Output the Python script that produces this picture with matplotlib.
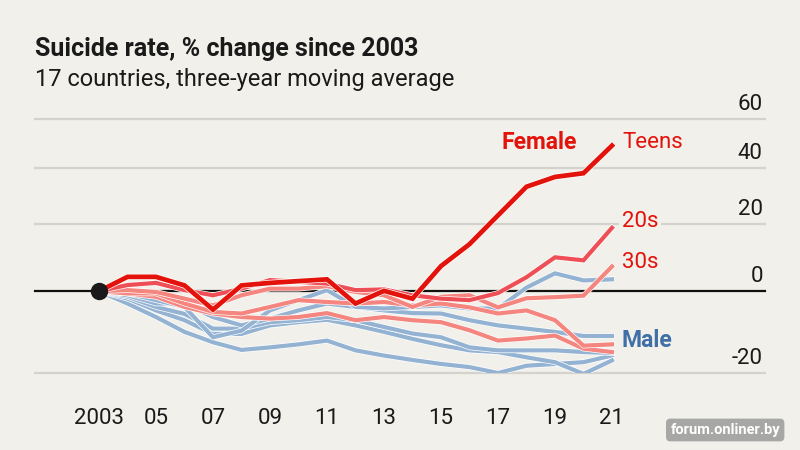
import matplotlib.pyplot as plt
import matplotlib.patheffects as pe
import numpy as np

plt.rcParams['font.family'] = ['Roboto', 'DejaVu Sans']

years = np.arange(2003, 2022)

# % change since 2003
female_teens = [0, 4.0, 4.0, 1.6, -4.9, 1.6, 2.3, 2.8, 3.3, -3.3, 0.1, -2.0, 7.1, 13.7, 23.0, 33.0, 36.6, 38.0, 48.8]
female_20s = [0, 1.7, 2.3, 0.3, -1.1, 0.7, 3.1, 2.6, 2.1, 0.3, 0.5, -1.1, -2.0, -2.4, -0.5, 3.9, 9.7, 8.8, 18.9]
female_30s = [0, 0.3, -0.2, -2.0, -3.8, -1.1, 0.7, 0.7, 1.4, -0.2, -1.1, -4.2, -1.5, -1.1, -4.3, -1.9, -1.6, -1.2, 7.0]
female_40s = [0, -0.6, -0.6, -3.3, -5.5, -5.9, -4.2, -2.4, -2.9, -3.3, -2.9, -3.8, -3.3, -4.3, -5.9, -5.1, -7.6, -13.8, -13.5]
female_50s = [0, -0.6, -1.5, -4.2, -5.9, -6.8, -7.2, -6.8, -5.8, -7.6, -6.8, -7.6, -8.1, -10.1, -12.6, -12.1, -11.4, -14.5, -15.3]

male_a = [0, -0.6, -2.4, -4.2, -11.8, -10.2, -5.1, -2.4, 0.3, -4.2, -4.6, -4.2, -3.8, -4.6, -4.6, 1.0, 5.0, 3.0, 3.3]
male_b = [0, -1.1, -3.3, -3.3, -6.8, -8.9, -7.2, -5.1, -3.3, -4.2, -5.1, -5.8, -5.9, -7.6, -8.9, -9.7, -10.5, -11.5, -11.5]
male_c = [0, -1.5, -4.2, -6.0, -9.7, -9.7, -8.1, -7.6, -6.8, -7.6, -9.3, -10.9, -11.8, -14.2, -14.9, -14.9, -14.9, -15.3, -15.5]
male_d = [0, -2.0, -5.1, -7.6, -11.0, -11.0, -8.9, -8.1, -7.5, -8.9, -10.5, -12.2, -13.7, -14.9, -15.3, -16.5, -17.6, -20.2, -17.2]
male_e = [0, -3.3, -6.8, -10.5, -13.0, -14.8, -14.2, -13.5, -12.6, -14.9, -16.1, -17.1, -18.0, -18.7, -20.0, -18.4, -18.0, -17.6, -16.1]

y_ticks = [-20, 0, 20, 40, 60]
x_ticks = list(range(2003, 2022, 2))
x_labels = ['2003', '05', '07', '09', '11', '13', '15', '17', '19', '21']

bg = '#F1F0EA'
grid_col = '#D3D2CC'
red = '#E3120B'
red_mid = '#EE4E55'
salmon = '#F4857F'
blue = '#94B3D3'
blue_dark = '#3F6FA6'


def fwd(v):
    return np.log1p(np.asarray(v, dtype=float) / 100)


def inv(t):
    return 100 * np.expm1(t)


fig = plt.figure(figsize=(8, 4.5), dpi=100, facecolor=bg)
ax = fig.add_axes([35 / 800, 77 / 450, 730 / 800, 254 / 450])
ax.set_facecolor(bg)
ax.set_yscale('function', functions=(fwd, inv))
ax.set_ylim(-20, 60)
ax.set_xlim(2003 - 64 / 28.5, 2021 + 153 / 28.5)
for s in ax.spines.values():
    s.set_visible(False)

# gridlines and zero line
for v in y_ticks:
    if v == 0:
        ax.axhline(v, color='#111111', lw=1.6, zorder=2, clip_on=False)
    else:
        ax.axhline(v, color=grid_col, lw=1.6, zorder=1, clip_on=False)
    ax.annotate(str(v), xy=(0.997, v), xycoords=('axes fraction', 'data'),
                xytext=(0, 3), textcoords='offset points',
                ha='right', va='bottom', fontsize=16, color='#1a1a1a')


def draw(vals, color, lw, z):
    ax.plot(years, vals, color=color, lw=lw, zorder=z, solid_joinstyle='miter',
            path_effects=[pe.Stroke(linewidth=lw + 1.0, foreground='white'), pe.Normal()])


for m in [male_e, male_d, male_c, male_b, male_a]:
    draw(m, blue, 3.0, 3)
for f in [female_50s, female_40s, female_30s]:
    draw(f, salmon, 3.0, 4)
draw(female_20s, red_mid, 3.0, 5)
draw(female_teens, red, 3.4, 6)

ax.plot([2003], [0], 'o', color='#1a1a1a', markersize=11.5, zorder=7)

ax.set_xticks(x_ticks, x_labels)
ax.set_yticks([])
ax.tick_params(axis='x', length=0, pad=25, labelsize=16, labelcolor='#1a1a1a')

# series labels
lx = 2021 + 10 / 28.5
ax.text(lx, 50, 'Teens', color=red, fontsize=16, va='center', ha='left', zorder=8)
ax.text(lx, 20.8, '20s', color=red, fontsize=16, va='center', ha='left', zorder=8,
        bbox=dict(facecolor=bg, edgecolor='none', pad=2))
ax.text(lx, 8.3, '30s', color=red, fontsize=16, va='center', ha='left', zorder=8)
ax.text(lx, -12.6, 'Male', color=blue_dark, fontsize=16.5, fontweight='bold', va='center', ha='left', zorder=8)
ax.text(2003 + (577 - 99) / 28.5, 50, 'Female', color=red, fontsize=16.5, fontweight='bold',
        va='center', ha='right', zorder=8)

fig.text(35 / 800, 1 - 56 / 450, 'Suicide rate, % change since 2003', fontsize=18,
         fontweight='bold', color='#1a1a1a', va='baseline', ha='left')
fig.text(35 / 800, 1 - 86 / 450, '17 countries, three-year moving average', fontsize=17,
         color='#1a1a1a', va='baseline', ha='left')

fig.text(780 / 800, 1 - 430 / 450, 'forum.onliner.by', fontsize=10.5, fontweight='bold',
         color='white', ha='right', va='center',
         bbox=dict(facecolor='#9a9a9a', edgecolor='none', boxstyle='round,pad=0.3', alpha=0.85))

fig.savefig('out.png', dpi=100, facecolor=bg)
